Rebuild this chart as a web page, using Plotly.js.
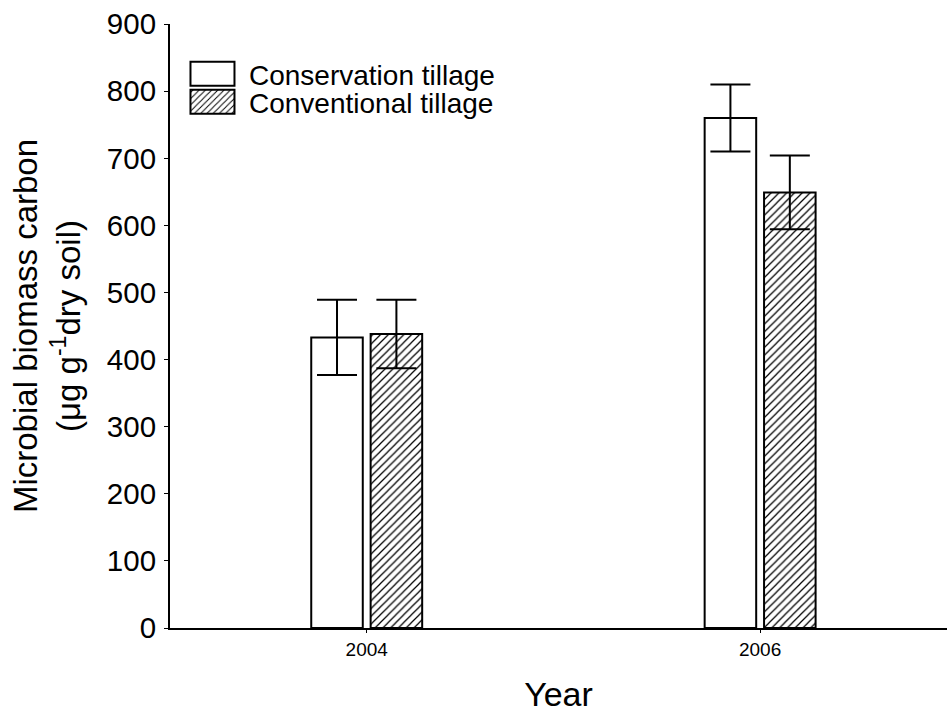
<!DOCTYPE html>
<html>
<head>
<meta charset="utf-8">
<script src="https://cdn.plot.ly/plotly-3.0.1.min.js"></script>
<style>
  html, body { margin: 0; padding: 0; background: #fff; }
  #chart { width: 947px; height: 713px; }
</style>
</head>
<body>
<div id="chart"></div>
<script>
// Microbial biomass carbon by year and tillage system (mean ± error)
const years = ['2004', '2006'];
const conservationMean = [433, 760];
const conservationErr = [56, 50];
const conventionalMean = [438, 649];
const conventionalErr = [51, 55];
const seriesNames = ['Conservation tillage', 'Conventional tillage'];
const yTicks = [0, 100, 200, 300, 400, 500, 600, 700, 800, 900];

const fontFamily = 'Arial, "Liberation Sans", sans-serif';

const barWidth = 0.131;

const traces = [
  {
    type: 'bar',
    name: seriesNames[0],
    legend: 'legend',
    x: years,
    y: conservationMean,
    width: barWidth,
    offset: -0.141,
    marker: { color: '#ffffff', line: { color: '#000000', width: 2 } },
    error_y: { type: 'data', array: conservationErr, visible: true,
               color: '#000000', thickness: 2, width: 20 }
  },
  {
    type: 'bar',
    name: seriesNames[1],
    legend: 'legend2',
    x: years,
    y: conventionalMean,
    width: barWidth,
    offset: 0.01,
    marker: {
      color: '#ffffff',
      line: { color: '#000000', width: 2 },
      pattern: { shape: '/', fgcolor: '#000000', bgcolor: '#ffffff', size: 5.5, solidity: 0.22 }
    },
    error_y: { type: 'data', array: conventionalErr, visible: true,
               color: '#000000', thickness: 2, width: 20 }
  }
];

// one legend per series so the two rows can sit close together
const legendBase = {
  x: 0.0077, xanchor: 'left', yanchor: 'middle',
  font: { size: 28, family: fontFamily, color: '#000000' },
  bgcolor: 'rgba(0,0,0,0)',
  borderwidth: 0,
  itemwidth: 63
};

const layout = {
  width: 947,
  height: 713,
  margin: { l: 170, r: 0, t: 24, b: 85 },
  paper_bgcolor: '#ffffff',
  plot_bgcolor: '#ffffff',
  font: { family: fontFamily, color: '#000000' },
  barmode: 'overlay',
  showlegend: true,
  legend: Object.assign({}, legendBase, { y: 0.9172 }),
  legend2: Object.assign({}, legendBase, { y: 0.8709 }),
  xaxis: {
    type: 'category',
    range: [-0.5, 1.475],
    showline: true, linecolor: '#000000', linewidth: 2,
    ticks: 'outside', ticklen: 3, tickcolor: '#000000', tickwidth: 1,
    tickfont: { size: 19, family: fontFamily },
    showgrid: false, zeroline: false,
    title: { text: '\u00a0Year', font: { size: 34, family: fontFamily }, standoff: 33 }
  },
  yaxis: {
    range: [0, 900],
    tickvals: yTicks,
    showline: true, linecolor: '#000000', linewidth: 2,
    ticks: 'outside', ticklen: 4, tickcolor: '#000000', tickwidth: 1,
    tickfont: { size: 29.5, family: fontFamily },
    ticklabelstandoff: 2,
    showgrid: false, zeroline: false,
    title: {
      text: 'Microbial biomass carbon<br>(μg g<sup>-1</sup>dry soil)\u00a0\u00a0',
      font: { size: 33, family: fontFamily },
      standoff: 16
    }
  }
};

Plotly.newPlot('chart', traces, layout, { displayModeBar: false, staticPlot: true })
  .then(function (gd) {
    // larger legend swatches, like the boxes of a printed key
    gd.querySelectorAll('.legendpoints path').forEach(function (p) {
      p.setAttribute('d', 'M22,12H-22V-12H22Z');
    });
  });
</script>
</body>
</html>
